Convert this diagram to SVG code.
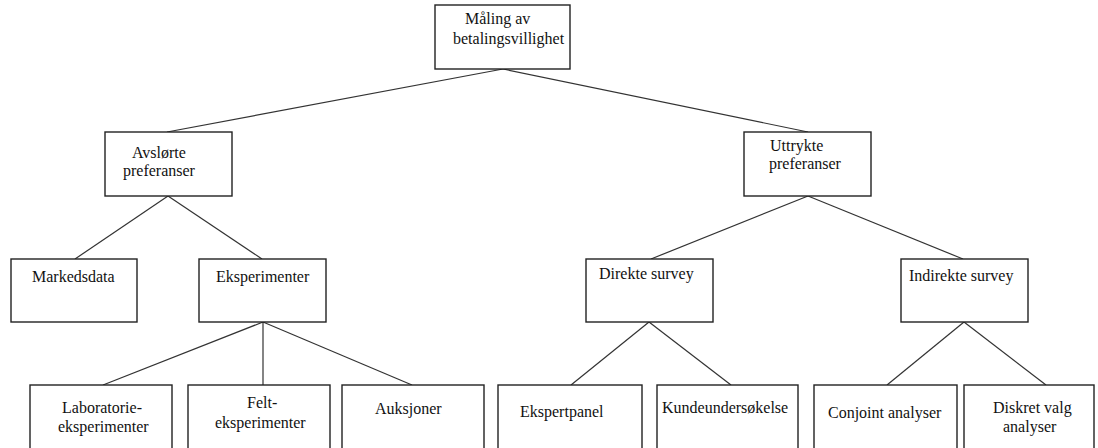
<svg xmlns="http://www.w3.org/2000/svg" width="1098" height="448" viewBox="0 0 1098 448">
<style>
.box{fill:#fff;stroke:#222;stroke-width:1.4}
.ln{stroke:#333;stroke-width:1.2;fill:none}
text{font-family:"Liberation Serif","Times New Roman",serif;font-size:16px;fill:#111}
</style>
<rect width="1098" height="448" fill="#fff"/>
<g id="connectors">
<line class="ln" x1="503" y1="69" x2="167" y2="132"/>
<line class="ln" x1="503" y1="69" x2="808" y2="132"/>
<line class="ln" x1="168" y1="196" x2="75" y2="259"/>
<line class="ln" x1="168" y1="196" x2="262" y2="259"/>
<line class="ln" x1="808" y1="196" x2="651" y2="259"/>
<line class="ln" x1="808" y1="196" x2="963" y2="259"/>
<line class="ln" x1="263" y1="322" x2="103" y2="385"/>
<line class="ln" x1="263" y1="322" x2="263" y2="385"/>
<line class="ln" x1="263" y1="322" x2="412" y2="385"/>
<line class="ln" x1="649" y1="322" x2="571" y2="385"/>
<line class="ln" x1="649" y1="322" x2="731" y2="385"/>
<line class="ln" x1="964" y1="322" x2="887" y2="385"/>
<line class="ln" x1="964" y1="322" x2="1046" y2="385"/>
</g>
<g id="n-root"><rect class="box" x="435" y="5" width="135" height="64"/><text x="465" y="24">Måling av</text><text x="453" y="44">betalingsvillighet</text></g>
<g id="n-avslorte"><rect class="box" x="105" y="132" width="127" height="64"/><text x="132" y="158">Avslørte</text><text x="123" y="176">preferanser</text></g>
<g id="n-uttrykte"><rect class="box" x="744" y="132" width="127" height="64"/><text x="770" y="151">Uttrykte</text><text x="769" y="169">preferanser</text></g>
<g id="n-markedsdata"><rect class="box" x="11" y="259" width="126" height="63"/><text x="32" y="282">Markedsdata</text></g>
<g id="n-eksperimenter"><rect class="box" x="199" y="259" width="127" height="63"/><text x="216" y="282">Eksperimenter</text></g>
<g id="n-direkte"><rect class="box" x="586" y="259" width="127" height="63"/><text x="599" y="279">Direkte survey</text></g>
<g id="n-indirekte"><rect class="box" x="901" y="259" width="127" height="63"/><text x="909" y="281">Indirekte survey</text></g>
<g id="n-lab"><rect class="box" x="30" y="385" width="142" height="70"/><text x="62" y="413">Laboratorie-</text><text x="58" y="432">eksperimenter</text></g>
<g id="n-felt"><rect class="box" x="188" y="385" width="142" height="70"/><text x="247" y="408">Felt-</text><text x="215" y="428">eksperimenter</text></g>
<g id="n-auksjoner"><rect class="box" x="342" y="385" width="142" height="70"/><text x="375" y="414">Auksjoner</text></g>
<g id="n-ekspertpanel"><rect class="box" x="498" y="385" width="144" height="70"/><text x="520" y="417">Ekspertpanel</text></g>
<g id="n-kunde"><rect class="box" x="657" y="385" width="141" height="70"/><text x="662" y="413">Kundeundersøkelse</text></g>
<g id="n-conjoint"><rect class="box" x="814" y="385" width="143" height="70"/><text x="828" y="418">Conjoint analyser</text></g>
<g id="n-diskret"><rect class="box" x="964" y="385" width="130" height="70"/><text x="993" y="413">Diskret valg</text><text x="1003" y="432">analyser</text></g>
</svg>
